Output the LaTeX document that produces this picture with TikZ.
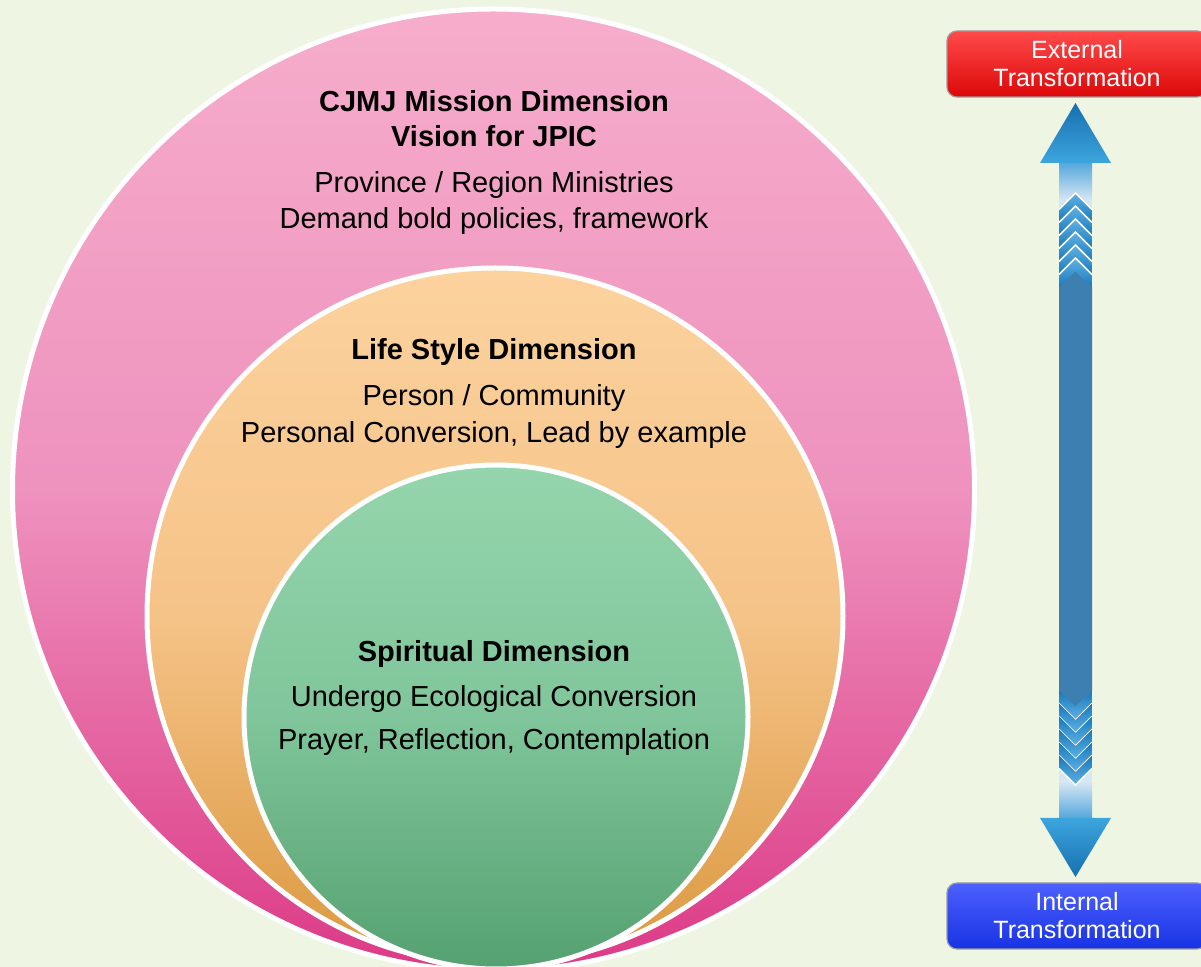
\documentclass[tikz,border=0pt]{standalone}
\usepackage{fontspec}
\setmainfont{Liberation Sans}
\definecolor{bg}{HTML}{EEF5E3}
\definecolor{pinkT}{HTML}{F6ADCB}
\definecolor{pinkM}{HTML}{EE92BE}
\definecolor{pinkB}{HTML}{DC3A86}
\definecolor{oraT}{HTML}{FCD29E}
\definecolor{oraM}{HTML}{F5C388}
\definecolor{oraB}{HTML}{DB983F}
\definecolor{grnT}{HTML}{95D5AD}
\definecolor{grnM}{HTML}{80C59B}
\definecolor{grnB}{HTML}{55A170}
\definecolor{redT}{HTML}{FF4A4A}
\definecolor{redB}{HTML}{DC0808}
\definecolor{bluT}{HTML}{4E60FF}
\definecolor{bluB}{HTML}{1733E4}
\definecolor{headD}{HTML}{1670B0}
\definecolor{headL}{HTML}{3DA5DD}
\definecolor{shL}{HTML}{D6E6F3}
\definecolor{shM}{HTML}{55A8DC}
\definecolor{shD}{HTML}{3E7FB1}
\definecolor{chL}{HTML}{62B1E3}
\definecolor{chD}{HTML}{1679BE}
\definecolor{boxedge}{HTML}{9A9A9A}
\begin{document}
\begin{tikzpicture}[x=0.5pt,y=-0.5pt,
  ring/.style={draw=white, line width=2.5pt},
  txt/.style={anchor=base, inner sep=0pt, font=\fontsize{14.5}{17}\selectfont},
  hd/.style={anchor=base, inner sep=0pt, font=\fontsize{14.5}{17}\selectfont\bfseries},
  tbox/.style={rounded corners=5pt, minimum width=130pt, minimum height=33pt,
    draw=boxedge, line width=0.6pt, text=white, align=center, inner sep=0pt,
    font=\fontsize{12.5}{14}\selectfont},
  chev/.style={top color=chL, bottom color=chD},
  chevd/.style={top color=chD, bottom color=chL},
  chevline/.style={draw=white, line width=0.8pt}]
\clip (0,0) rectangle (1201,967);
\fill[bg] (0,0) rectangle (1201,967);

% circles
\path[ring, top color=pinkT, bottom color=pinkB, middle color=pinkM] (493.5,490) circle[radius=240.5pt];
\path[ring, top color=oraT, bottom color=oraB, middle color=oraM] (495,616) circle[radius=174pt];
\path[ring, top color=grnT, bottom color=grnB, middle color=grnM] (496,717) circle[radius=126pt];

% texts
\node[hd]  (t1)  at (494,112) {CJMJ Mission Dimension};
\node[hd]  (t2)  at (494,147) {Vision for JPIC};
\node[txt] (t3)  at (494,193) {Province / Region Ministries};
\node[txt] (t4)  at (494,229) {Demand bold policies, framework};
\node[hd]  (t5)  at (494,360) {Life Style Dimension};
\node[txt] (t6)  at (494,406) {Person / Community};
\node[txt] (t7)  at (494,443) {Personal Conversion, Lead by example};
\node[hd]  (t8)  at (494,662) {Spiritual Dimension};
\node[txt] (t9)  at (494,707) {Undergo Ecological Conversion};
\node[txt] (t10) at (494,750) {Prayer, Reflection, Contemplation};

% boxes
\node[tbox, top color=redT, bottom color=redB] (ext) at (1077,64) {External\\Transformation};
\node[tbox, top color=bluT, bottom color=bluB] (int) at (1077,916) {Internal\\Transformation};

% double arrow
\fill[shL] (1059,195) rectangle (1092,790);
\path[top color=shM, bottom color=shL] (1059,163) rectangle (1092,200);
\path[top color=shL, bottom color=shM] (1059,782) rectangle (1092,818);
\path[top color=headD, bottom color=headL] (1075.5,103) -- (1111,163) -- (1040,163) -- cycle;
\path[top color=headL, bottom color=headD] (1040,818) -- (1111,818) -- (1075.5,877) -- cycle;
\fill[shD] (1059,287) -- (1075.5,271) -- (1092,287) -- (1092,691) -- (1075.5,707) -- (1059,691) -- cycle;
\foreach \k in {0,...,5}{
  \pgfmathsetmacro\ya{193+13*\k}
  \path[chev] (1059,\ya+16.5) -- (1075.5,\ya) -- (1092,\ya+16.5) -- (1092,\ya+29.5) -- (1075.5,\ya+13) -- (1059,\ya+29.5) -- cycle;
  \path[chevline] (1059,\ya+16.5) -- (1075.5,\ya) -- (1092,\ya+16.5);
  \pgfmathsetmacro\yb{707+13*\k}
  \path[chevd] (1059,\yb-16.5) -- (1075.5,\yb) -- (1092,\yb-16.5) -- (1092,\yb-3.5) -- (1075.5,\yb+13) -- (1059,\yb-3.5) -- cycle;
  \path[chevline] (1059,\yb-3.5) -- (1075.5,\yb+13) -- (1092,\yb-3.5);
}
\end{tikzpicture}
\end{document}
